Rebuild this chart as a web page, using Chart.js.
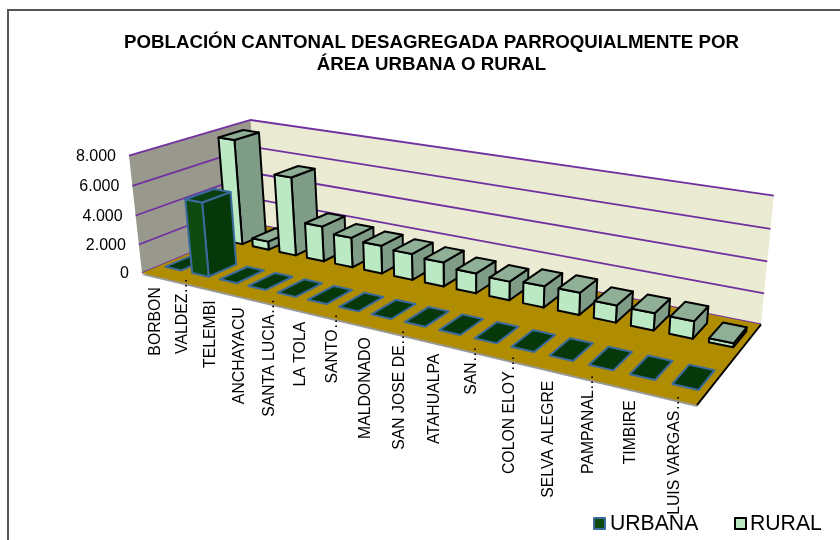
<!DOCTYPE html>
<html><head><meta charset="utf-8">
<script src="https://cdn.jsdelivr.net/npm/chart.js@4"></script>
<style>html,body{margin:0;padding:0;background:#fff;overflow:hidden;width:840px;height:540px}canvas{position:absolute;left:0;top:0}</style>
</head><body>
<canvas id="c" width="863" height="540"></canvas>
<script>
const categories = ['BORBON','VALDEZ…','TELEMBI','ANCHAYACU','SANTA LUCIA…','LA TOLA','SANTO…','MALDONADO','SAN JOSE DE…','ATAHUALPA','SAN…','COLON ELOY…','SELVA ALEGRE','PAMPANAL…','TIMBIRE','LUIS VARGAS…'];
const urbana = [0,5100,0,0,0,0,0,0,0,0,0,0,0,0,0,0];
const rural = [7600,600,5600,2500,2100,1950,1800,1650,1350,1250,1400,1450,1100,1100,1100,250];
const titleLines = ['POBLACIÓN CANTONAL DESAGREGADA PARROQUIALMENTE POR','ÁREA URBANA O RURAL'];
const FONT = '"Liberation Sans", Arial, sans-serif';

// projection of the (category, depth, value) box onto the page
const Q = {p0:[142,273],p1:[697,405],p2:[761,324.5],p3:[258,224.7],a:[129,155.7],v:[470.6,3239]};
const proj = (() => {
  const [x0,y0]=Q.p0,[x1,y1]=Q.p1,[x2,y2]=Q.p2,[x3,y3]=Q.p3;
  const dx1=x1-x2,dx2=x3-x2,sx=x0-x1+x2-x3,dy1=y1-y2,dy2=y3-y2,sy=y0-y1+y2-y3;
  const den=dx1*dy2-dx2*dy1;
  const g=(sx*dy2-dx2*sy)/den,h=(dx1*sy-sx*dy1)/den;
  const a=x1-x0+g*x1,b=x3-x0+h*x3,c=x0,d=y1-y0+g*y1,e=y3-y0+h*y3,f=y0;
  const i=(y0-Q.a[1])/(Q.a[1]-Q.v[1]);
  const cx=i*Q.v[0],cy=i*Q.v[1];
  return (u,v,w)=>{const W=g*u+h*v+1+i*w;return [(a*u+b*v+c+cx*w)/W,(d*u+e*v+f+cy*w)/W];};
})();

function poly(ctx,pts,fill,stroke,lw){
  ctx.beginPath();pts.forEach((p,k)=>k?ctx.lineTo(p[0],p[1]):ctx.moveTo(p[0],p[1]));ctx.closePath();
  if(fill){ctx.fillStyle=fill;ctx.fill();}
  if(stroke){ctx.strokeStyle=stroke;ctx.lineWidth=lw;ctx.lineJoin='round';ctx.stroke();}
}

class Bar3DController extends Chart.BarController {
  static id='bar3d';
  static defaults={...Chart.BarController.defaults};
  draw(){
    const meta=this._cachedMeta,ctx=this.chart.ctx,ds=this.getDataset();
    const xs=meta.xScale,ys=meta.yScale,[v0,v1]=ds.depthRange;
    meta.data.forEach(el=>{
      const {x,y,width}=el.getProps(['x','y','width'],true);
      const u0=xs.getDecimalForPixel(x-width/2),u1=xs.getDecimalForPixel(x+width/2),w=ys.getDecimalForPixel(y);
      const P=(u,v,h)=>proj(u,v,h);
      const lw=ds.borderWidth;
      if(w>0){
        poly(ctx,[P(u1,v0,0),P(u1,v1,0),P(u1,v1,w),P(u1,v0,w)],ds.sideColor,ds.borderColor,lw);
        poly(ctx,[P(u0,v0,0),P(u1,v0,0),P(u1,v0,w),P(u0,v0,w)],ds.backgroundColor,ds.borderColor,lw);
      }
      poly(ctx,[P(u0,v0,w),P(u1,v0,w),P(u1,v1,w),P(u0,v1,w)],w>0?ds.topColor:ds.sideColor,ds.borderColor,lw);
    });
  }
}
Chart.register(Bar3DController);

const sceneryPlugin={
  id:'scenery',
  beforeDraw(chart){
    const ctx=chart.ctx;
    ctx.save();ctx.fillStyle='#fff';ctx.fillRect(0,0,chart.width,chart.height);
    ctx.strokeStyle='#555';ctx.lineWidth=2;ctx.strokeRect(8,10,1000,1000);ctx.restore();
  },
  beforeDatasetsDraw(chart){
    const ctx=chart.ctx,xs=chart.scales.x,ys=chart.scales.y;
    ctx.save();
    // walls and floor
    poly(ctx,[proj(0,0,0),proj(0,1,0),proj(0,1,1),proj(0,0,1)],'#98988C');
    poly(ctx,[proj(0,1,0),proj(1,1,0),proj(1,1,1),proj(0,1,1)],'#EBEBD3');
    const fl=[proj(0,0,0),proj(1,0,0),proj(1,1,0),proj(0,1,0)];
    poly(ctx,fl.map((p,i)=>i<2?[p[0],p[1]+2]:p),'#999');
    // gridlines
    ctx.strokeStyle='#7030A0';ctx.lineWidth=1.8;
    ys.ticks.forEach(t=>{
      const w=ys.getDecimalForPixel(ys.getPixelForValue(t.value));
      const a=proj(0,0,w),b=proj(0,1,w),c=proj(1,1,w);
      ctx.beginPath();ctx.moveTo(a[0],a[1]);ctx.lineTo(b[0],b[1]);ctx.lineTo(c[0],c[1]);ctx.stroke();
    });
    poly(ctx,fl,'#B08C00');
    ctx.strokeStyle='#000';ctx.lineWidth=2;ctx.beginPath();ctx.moveTo(fl[1][0],fl[1][1]);ctx.lineTo(fl[2][0],fl[2][1]);ctx.stroke();
    // value labels
    ctx.fillStyle='#000';ctx.font='16px '+FONT;ctx.textAlign='right';ctx.textBaseline='middle';
    ys.ticks.forEach(t=>{
      const w=ys.getDecimalForPixel(ys.getPixelForValue(t.value));
      const a=proj(0,0,w);
      ctx.fillText(t.label,a[0]-13,a[1]+1);
    });
    // category labels
    const fs=15.8;ctx.font=fs+'px '+FONT;
    chart.data.labels.forEach((_,i)=>{
      const lab=xs.getLabelForValue(i);
      const p=proj(xs.getDecimalForPixel(xs.getPixelForValue(i)),0,0);
      ctx.save();ctx.translate(p[0],p[1]+11-(lab.endsWith('…')?fs:0));ctx.rotate(-Math.PI/2);
      ctx.textAlign='right';ctx.textBaseline='middle';ctx.fillText(lab,0,0);ctx.restore();
    });
    ctx.restore();
  },
  afterDraw(chart){
    const ctx=chart.ctx,[u,r]=chart.data.datasets;
    ctx.save();ctx.font='21.2px '+FONT;ctx.textAlign='left';ctx.textBaseline='middle';
    [[u,594,610],[r,735,750]].forEach(([d,bx,tx])=>{
      ctx.fillStyle=d.backgroundColor;ctx.strokeStyle=d.borderColor;ctx.lineWidth=2;
      ctx.fillRect(bx,518,11,11);ctx.strokeRect(bx,518,11,11);
      ctx.fillStyle='#000';ctx.fillText(d.label,tx,524);
    });
    ctx.restore();
  }
};

new Chart(document.getElementById('c'),{
  type:'bar3d',
  data:{labels:categories,datasets:[
    {label:'URBANA',data:urbana,backgroundColor:'#0E4A10',sideColor:'#06380A',topColor:'#0A4010',borderColor:'#3B6A9C',borderWidth:2,depthRange:[0.14,0.37],clip:false,grouped:false,barPercentage:0.6,categoryPercentage:1},
    {label:'RURAL',data:rural,backgroundColor:'#BBE9C3',sideColor:'#7F9C87',topColor:'#8FB096',borderColor:'#000',borderWidth:2,depthRange:[0.66,0.88],clip:false,grouped:false,barPercentage:0.6,categoryPercentage:1}
  ]},
  options:{
    responsive:false,animation:false,
    layout:{padding:0},
    scales:{
      x:{type:'category',display:false,offset:true},
      y:{type:'linear',display:false,min:0,max:8000,ticks:{stepSize:2000,callback:v=>String(v).replace(/\B(?=(\d{3})+$)/g,'.')}}
    },
    plugins:{
      legend:{display:false},tooltip:{enabled:false},
      title:{display:true,text:titleLines,color:'#000',font:{family:FONT,size:18.7,weight:'bold',lineHeight:1.176},padding:{top:32,bottom:0}}
    }
  },
  plugins:[sceneryPlugin]
});
</script>
</body></html>
